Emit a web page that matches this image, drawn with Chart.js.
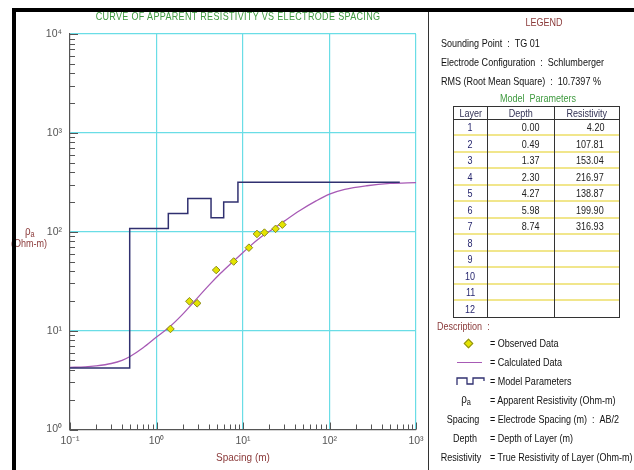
<!DOCTYPE html>
<html lang="en">
<head>
<meta charset="UTF-8">
<title>Curve of apparent resistivity - TG 01</title>
<script src="https://cdn.jsdelivr.net/npm/chart.js@4.4.1/dist/chart.umd.min.js"></script>
<style>
  body { margin:0; background:#fff; }
  #wrap { position:relative; width:634px; height:470px; overflow:hidden;
          font-family:"Liberation Sans",Arial,sans-serif; font-size:11px; color:#111; }
  #myChart { position:absolute; left:0; top:0; }
  .blk { position:absolute; background:#000; }
  .t { position:absolute; white-space:nowrap; line-height:13px; transform:scaleX(0.82); transform-origin:0 50%; }
  .t.ctr { transform:translateX(-50%) scaleX(0.82); transform-origin:50% 50%; }
  .red { color:#8b3a3a; }
  .green { color:#3f9a3f; }
  #tbl { position:absolute; left:453px; top:106px; width:167px; border:1px solid #333; box-sizing:border-box; }
  .row { position:absolute; left:0; width:165px; box-sizing:border-box; }
  .cell { position:absolute; top:0; height:100%; display:flex; align-items:center; box-sizing:border-box; }
  .cell span { display:inline-block; transform:scaleX(0.82); }
  .vl { position:absolute; top:0; bottom:0; width:1px; background:#333; }
</style>
</head>
<body>
<div id="wrap">
  <canvas id="myChart" width="634" height="470"></canvas>

  <div class="t ctr green" style="left:238px;top:10px;letter-spacing:0.4px">CURVE OF APPARENT RESISTIVITY VS ELECTRODE SPACING</div>
  <div class="t red" style="left:25px;top:225px;font-size:12px">&rho;<span style="font-size:9px;position:relative;top:2px">a</span></div>
  <div class="t red" style="left:11px;top:237px;font-size:11px">(Ohm-m)</div>

  <div class="blk" style="left:12px;top:8px;width:4px;height:462px"></div>
  <div class="blk" style="left:12px;top:8px;width:622px;height:4px"></div>
  <div class="blk" style="left:428px;top:12px;width:1px;height:458px;background:#333"></div>

  <div class="t ctr red" style="left:544px;top:16px">LEGEND</div>
  <div class="t" style="left:441px;top:37px">Sounding Point&nbsp; : &nbsp;TG 01</div>
  <div class="t" style="left:441px;top:56px">Electrode Configuration&nbsp; : &nbsp;Schlumberger</div>
  <div class="t" style="left:441px;top:75px">RMS (Root Mean Square)&nbsp; : &nbsp;10.7397 %</div>
  <div class="t ctr green" style="left:538px;top:92px">Model&nbsp; Parameters</div>

  <div id="tbl"></div>

  <div class="t red" style="left:437px;top:320px">Description&nbsp; :</div>
  <div style="position:absolute;left:465px;top:340px;width:5px;height:5px;background:#e4e400;border:1px solid #8a8a1a;transform:rotate(45deg)"></div>
  <div class="t" style="left:490px;top:337px">= Observed Data</div>
  <div style="position:absolute;left:457px;top:362px;width:25px;height:0;border-top:1.5px solid #a75ab5"></div>
  <div class="t" style="left:490px;top:356px">= Calculated Data</div>
  <svg style="position:absolute;left:456px;top:376px" width="30" height="10"><path d="M1 9 V2 H11 V8 H17 V2 H28 V5" fill="none" stroke="#303070" stroke-width="1.3"/></svg>
  <div class="t" style="left:490px;top:375px">= Model Parameters</div>
  <div class="t ctr" style="left:466px;top:393px;font-size:12px">&rho;<span style="font-size:9px;position:relative;top:2px">a</span></div>
  <div class="t" style="left:490px;top:394px">= Apparent Resistivity (Ohm-m)</div>
  <div class="t ctr" style="left:463px;top:413px">Spacing</div>
  <div class="t" style="left:490px;top:413px">= Electrode Spacing (m)&nbsp; : &nbsp;AB/2</div>
  <div class="t ctr" style="left:465px;top:432px">Depth</div>
  <div class="t ctr" style="left:461px;top:451px">Resistivity</div>
  <div class="t" style="left:490px;top:432px">= Depth of Layer (m)</div>
  <div class="t" style="left:490px;top:451px">= True Resistivity of Layer (Ohm-m)</div>
</div>

<script>
// model parameters (layer table)
const layerNo = [1, 2, 3, 4, 5, 6, 7, 8, 9, 10, 11, 12];
const layerDepth = [0.00, 0.49, 1.37, 2.30, 4.27, 5.98, 8.74];
const layerRes = [4.20, 107.81, 153.04, 216.97, 138.87, 199.90, 316.93];
const modelEnd = 650;

// observed data (AB/2, apparent resistivity)
const obsSpacing = [1.45, 2.4, 2.95, 4.9, 7.8, 11.7, 14.5, 17.7, 23.8, 28.5];
const obsRho = [10.4, 19.8, 18.9, 41, 50, 69, 95, 98, 107, 118];

// calculated curve
const calcSpacing = [0.1, 0.15, 0.2, 0.3, 0.4, 0.5, 0.7, 1.0, 1.4, 2.0, 2.7, 4.0, 5.5, 7.7, 11.5, 16, 22, 30, 45, 70, 100, 150, 270, 500, 1000];
const calcRho = [4.25, 4.3, 4.4, 4.65, 5.0, 5.5, 6.7, 8.6, 10.8, 14.6, 19.5, 28.5, 38, 50, 69, 88, 106, 128, 163, 205, 240, 268, 292, 308, 314];

const xTicks = [0.1, 1, 10, 100, 1000];
const yTicks = [1, 10, 100, 1000, 10000];

// table
var tbl = document.getElementById('tbl');
var headH = 12, rowH = 16.45;
tbl.style.height = (headH + 1 + rowH * layerNo.length + 2) + 'px';
var colL = [0, 33, 100], colW = [33, 67, 65];
function addRow(rowTop, h, cells, line, colors, aligns) {
  var r = document.createElement('div');
  r.className = 'row';
  r.style.top = rowTop + 'px'; r.style.height = h + 'px';
  r.style.borderBottom = line;
  for (var c = 0; c < 3; c++) {
    var d = document.createElement('div');
    d.className = 'cell';
    d.style.left = colL[c] + 'px'; d.style.width = colW[c] + 'px';
    d.style.justifyContent = aligns[c];
    d.style.paddingRight = aligns[c] == 'flex-end' ? '15px' : '0';
    d.style.color = colors[c];
    var s = document.createElement('span');
    s.style.transformOrigin = aligns[c] == 'flex-end' ? '100% 50%' : '50% 50%';
    s.textContent = cells[c];
    d.appendChild(s);
    r.appendChild(d);
  }
  tbl.appendChild(r);
}
addRow(0, headH + 1, ['Layer', 'Depth', 'Resistivity'], '1px solid #333', ['#333355', '#333355', '#333355'], ['center', 'center', 'center']);
for (var i = 0; i < layerNo.length; i++) {
  var dep = i < layerDepth.length ? layerDepth[i].toFixed(2) : '';
  var res = i < layerRes.length ? layerRes[i].toFixed(2) : '';
  var y0 = Math.round(headH + 1 + i * rowH);
  var y1 = Math.round(headH + 1 + (i + 1) * rowH);
  addRow(y0, y1 - y0, [layerNo[i], dep, res],
    i < layerNo.length - 1 ? '2px solid #f1e68c' : 'none',
    ['#26266e', '#222', '#222'], ['center', 'flex-end', 'flex-end']);
}
[33, 100].forEach(function (x) {
  var v = document.createElement('div');
  v.className = 'vl'; v.style.left = x + 'px';
  tbl.appendChild(v);
});

// chart data built from the arrays
const modelPts = layerDepth.map((d, i) => ({x: d > 0 ? d : 0.1, y: layerRes[i]}));
modelPts.push({x: modelEnd, y: layerRes[layerRes.length - 1]});
const calcPts = calcSpacing.map((s, i) => ({x: s, y: calcRho[i]}));
const obsPts = obsSpacing.map((s, i) => ({x: s, y: obsRho[i]}));

const sup = {'0': '\u2070', '1': '\u00b9', '2': '\u00b2', '3': '\u00b3', '4': '\u2074', '-': '\u207b'};
function pow10Label(v) {
  var e = String(Math.round(Math.log10(v)));
  return '10' + e.split('').map(ch => sup[ch]).join('');
}

const minorTicks = {
  id: 'minorTicks',
  afterDatasetsDraw(chart) {
    const {ctx, chartArea: a, scales: {x, y}} = chart;
    ctx.save();
    ctx.strokeStyle = '#555';
    ctx.lineWidth = 1;
    ctx.beginPath();
    for (let d = 0; d <= 4; d++) {
      for (let k = 1; k <= 9; k++) {
        const v = k * Math.pow(10, d);
        if (v > 10000) break;
        const py = Math.round(y.getPixelForValue(v)) + 0.5;
        ctx.moveTo(a.left, py);
        ctx.lineTo(a.left + (k === 1 ? 8 : 5), py);
      }
    }
    for (let d = -1; d <= 3; d++) {
      for (let k = 1; k <= 9; k++) {
        const v = k * Math.pow(10, d);
        if (v > 1000) break;
        const px = Math.round(x.getPixelForValue(v)) + 0.5;
        ctx.moveTo(px, a.bottom);
        ctx.lineTo(px, a.bottom - (k === 1 ? 7 : 5));
      }
    }
    ctx.stroke();
    ctx.restore();
  }
};

const gridCyan = '#6adde6';
const tickFont = {family: '"Liberation Sans",Arial,sans-serif', size: 10.5};

new Chart('myChart', {
  data: {
    datasets: [{
      type: 'scatter',
      data: obsPts,
      pointStyle: 'rectRot',
      pointRadius: 3.8,
      backgroundColor: '#e4e400',
      borderColor: '#8a8a1a',
      borderWidth: 1
    }, {
      type: 'line',
      data: modelPts,
      stepped: 'before',
      borderColor: '#303070',
      borderWidth: 1.5,
      pointRadius: 0,
      fill: false
    }, {
      type: 'line',
      data: calcPts,
      borderColor: '#a75ab5',
      borderWidth: 1.3,
      pointRadius: 0,
      cubicInterpolationMode: 'monotone',
      fill: false
    }]
  },
  options: {
    responsive: false,
    animation: false,
    devicePixelRatio: 1,
    layout: {padding: {left: 0, top: 34, right: 218, bottom: 0}},
    plugins: {legend: {display: false}, tooltip: {enabled: false}},
    scales: {
      x: {
        type: 'logarithmic',
        position: 'bottom',
        min: 0.1, max: 1000,
        afterBuildTicks: s => { s.ticks = xTicks.map(v => ({value: v})); },
        afterFit: s => { s.height = 40.5; },
        ticks: {callback: v => pow10Label(v), color: '#555', font: tickFont, padding: 5, maxRotation: 0, autoSkip: false},
        grid: {color: c => c.tick && c.tick.value === 0.1 ? 'rgba(0,0,0,0)' : gridCyan, lineWidth: 1.2, drawTicks: false},
        border: {color: '#555', width: 1.2},
        title: {display: true, text: 'Spacing (m)', color: '#8b3a3a', font: {family: tickFont.family, size: 10}, padding: {top: 0, bottom: 6}}
      },
      y: {
        type: 'logarithmic',
        min: 1, max: 10000,
        afterBuildTicks: s => { s.ticks = yTicks.map(v => ({value: v})); },
        afterFit: s => { s.width = 70; },
        ticks: {callback: v => pow10Label(v), color: '#555', font: tickFont, padding: 8, autoSkip: false},
        grid: {color: c => c.tick && c.tick.value === 1 ? 'rgba(0,0,0,0)' : gridCyan, lineWidth: 1.2, drawTicks: false},
        border: {color: '#555', width: 1.2}
      }
    }
  },
  plugins: [minorTicks]
});
</script>
</body>
</html>
